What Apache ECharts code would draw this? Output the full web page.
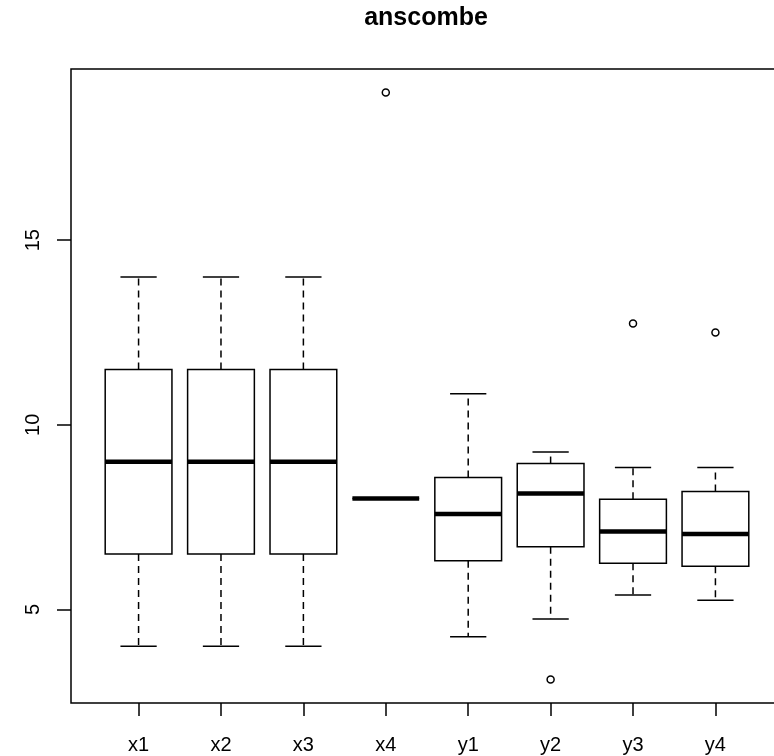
<!DOCTYPE html>
<html>
<head>
<meta charset="utf-8">
<script src="https://cdn.jsdelivr.net/npm/echarts@6/dist/echarts.min.js"></script>
<style>html,body{margin:0;padding:0;background:#fff;}#c{width:774px;height:756px;}</style>
</head>
<body>
<div id="c"></div>
<script>
const categories = ['x1','x2','x3','x4','y1','y2','y3','y4'];
const whiskerLow  = [4, 4, 4, 8, 4.26, 4.74, 5.39, 5.25];
const hingeLow    = [6.5, 6.5, 6.5, 8, 6.315, 6.695, 6.25, 6.17];
const medians     = [9, 9, 9, 8, 7.58, 8.14, 7.11, 7.04];
const hingeHigh   = [11.5, 11.5, 11.5, 8, 8.57, 8.95, 7.98, 8.19];
const whiskerHigh = [14, 14, 14, 8, 10.84, 9.26, 8.84, 8.84];
const outlierPos  = [4, 6, 7, 8];
const outlierVal  = [19, 3.10, 12.74, 12.50];
const yTicks = [5, 10, 15];
const xTicks = [1, 2, 3, 4, 5, 6, 7, 8];

const boxData = categories.map((c, i) => [i + 1, whiskerLow[i], hingeLow[i], medians[i], hingeHigh[i], whiskerHigh[i]]);
const outlierData = outlierPos.map((p, i) => [p, outlierVal[i]]);

const FONT = 'Liberation Sans, Arial, sans-serif';
const chart = echarts.init(document.getElementById('c'), null, {renderer: 'canvas'});

function renderBox(params, api) {
  const x = api.value(0);
  const lo = api.coord([x, api.value(1)]);
  const q1 = api.coord([x, api.value(2)]);
  const md = api.coord([x, api.value(3)]);
  const q3 = api.coord([x, api.value(4)]);
  const hi = api.coord([x, api.value(5)]);
  const bw = api.size([0.81, 0])[0] / 2;
  const sw = api.size([0.44, 0])[0] / 2;
  const cx = md[0];
  const stroke = {stroke: '#000', lineWidth: 1.5, fill: null};
  const dashed = {stroke: '#000', lineWidth: 1.5, lineDash: [7, 5]};
  const children = [
    {type: 'line', shape: {x1: cx, y1: q3[1], x2: cx, y2: hi[1]}, style: dashed},
    {type: 'line', shape: {x1: cx, y1: q1[1], x2: cx, y2: lo[1]}, style: dashed},
    {type: 'line', shape: {x1: cx - sw, y1: hi[1], x2: cx + sw, y2: hi[1]}, style: stroke},
    {type: 'line', shape: {x1: cx - sw, y1: lo[1], x2: cx + sw, y2: lo[1]}, style: stroke},
    {type: 'rect', shape: {x: cx - bw, y: q3[1], width: 2 * bw, height: q1[1] - q3[1]}, style: {stroke: '#000', lineWidth: 1.5, fill: '#fff'}},
    {type: 'line', shape: {x1: cx - bw, y1: md[1], x2: cx + bw, y2: md[1]}, style: {stroke: '#000', lineWidth: 4.5, lineCap: 'butt'}}
  ];
  return {type: 'group', children: children};
}

chart.setOption({
  animation: false,
  backgroundColor: '#fff',
  graphic: [{
    type: 'text', x: 426, y: 6,
    style: {text: 'anscombe', font: 'bold 25px ' + FONT, fill: '#000', textAlign: 'center', textVerticalAlign: 'top'}
  }],
  grid: {left: 71, top: 69, width: 712, height: 634, show: true, borderColor: '#000', borderWidth: 1.5,
    backgroundColor: 'transparent', outerBoundsMode: 'none', containLabel: false},
  xAxis: {
    type: 'value', min: 0.18, max: 8.82,
    axisLine: {show: false},
    splitLine: {show: false},
    axisTick: {show: true, customValues: xTicks, length: 13, lineStyle: {color: '#000', width: 1.5}},
    axisLabel: {show: true, customValues: xTicks, margin: 32, fontSize: 20, fontFamily: FONT, color: '#000',
      formatter: v => categories[Math.round(v) - 1] || ''}
  },
  yAxis: {
    type: 'value', min: 2.464, max: 19.636,
    axisLine: {show: false},
    splitLine: {show: false},
    axisTick: {show: true, customValues: yTicks, length: 14, lineStyle: {color: '#000', width: 1.5}},
    axisLabel: {show: true, customValues: yTicks, rotate: 90, margin: 28, fontSize: 20, fontFamily: FONT, color: '#000'}
  },
  series: [
    {type: 'custom', renderItem: renderBox, data: boxData, encode: {x: 0, y: [1, 2, 3, 4, 5]}, clip: false},
    {type: 'scatter', data: outlierData, symbol: 'circle', symbolSize: 7,
      itemStyle: {color: '#fff', borderColor: '#000', borderWidth: 1.5, opacity: 1}}
  ]
});
</script>
</body>
</html>
